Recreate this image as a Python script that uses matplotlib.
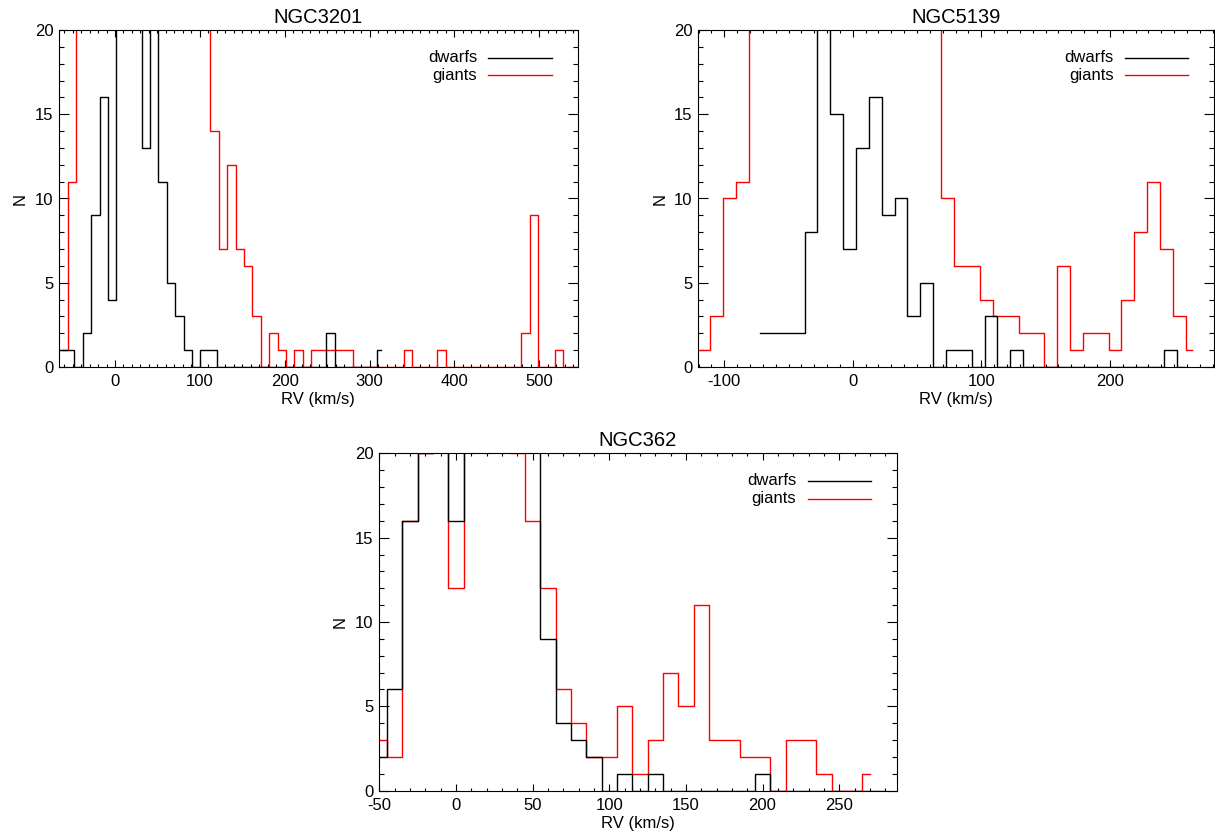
import numpy as np
import matplotlib.pyplot as plt
from matplotlib.ticker import MultipleLocator

plt.rcParams['font.family'] = ['Liberation Sans', 'DejaVu Sans']
plt.rcParams['axes.unicode_minus'] = False

# NGC3201 (bin width 9.9 km/s, values > 20 run off the top of the plot)
n3201_step = 9.9
n3201_dwarf_start = -72.65
n3201_dwarfs = [1, 1, 1, 0, 2, 9, 16, 4, 27, 31, 24, 13, 26, 11, 5, 3, 1, 0, 1, 1,
                0, 0, 0, 0, 0, 0, 0, 0, 0, 0, 0, 0, 0,
                2, 0, 0, 0, 0, 0, 1]
n3201_giant_start = -60.85
n3201_giants = [1, 11,
                22, 34, 41, 52, 60, 58, 49, 40, 37, 31, 28, 30, 26, 24, 22, 21,
                14, 7, 12, 7, 6, 3, 0, 2, 1, 0, 1, 0,
                1, 1, 1, 1, 1, 0, 0, 0, 0, 0, 0, 1, 0, 0, 0, 1,
                0, 0, 0, 0, 0, 0, 0, 0, 0, 2, 9, 0, 0, 1, 0, 0]

# NGC5139 (bin width 10 km/s)
n5139_step = 10
n5139_dwarf_start = -72.5
n5139_dwarfs = [2, 2, 2, 2, 8, 24, 15, 7, 13, 16, 9, 10, 3, 5, 0, 1, 1, 0, 3, 0, 1,
                0, 0, 0, 0, 0, 0, 0, 0, 0, 0, 0, 1, 0]
n5139_giant_start = -126
n5139_giants = [1, 1, 3, 10, 11,
                23, 27, 33, 40, 45, 52, 48, 44, 39, 35, 30, 28, 26, 24, 22,
                10, 6, 6, 4, 3, 3, 2, 2, 0, 6, 1, 2, 2, 1, 4, 8, 11, 7, 3, 1]

# NGC362 (bin width 10 km/s)
n362_step = 10
n362_dwarf_start = -50
n362_dwarfs = [2, 6, 16, 20, 23, 16, 35, 48, 52, 41, 26, 9, 4, 3, 2, 0, 1, 0, 1,
               0, 0, 0, 0, 0, 0, 1, 0, 0, 0, 0, 0, 0, 0, 0]
n362_giant_start = -50
n362_giants = [3, 2, 16, 20, 24, 12, 30, 38, 27, 20, 16, 12, 6, 4, 2, 2, 5, 1, 3,
               7, 5, 11, 3, 3, 2, 2, 0, 3, 3, 1, 0, 0, 1]

fig = plt.figure(figsize=(12.15, 8.38), dpi=100)


def panel(rect, title, xlim, xmajor, dwarf_start, dwarfs, giant_start, giants, step,
          leg_y=(0.917, 0.866)):
    ax = fig.add_axes(rect)
    xg = giant_start + step * np.arange(len(giants))
    xd = dwarf_start + step * np.arange(len(dwarfs))
    ax.step(xg, giants, where='mid', color='red', lw=1.0)
    ax.step(xd, dwarfs, where='mid', color='black', lw=1.0)
    ax.set_xlim(xlim)
    ax.set_ylim(0, 20)
    ax.xaxis.set_major_locator(MultipleLocator(xmajor))
    ax.xaxis.set_minor_locator(MultipleLocator(10))
    ax.yaxis.set_major_locator(MultipleLocator(5))
    ax.yaxis.set_minor_locator(MultipleLocator(1))
    ax.tick_params(which='both', direction='in', top=True, right=True,
                   width=0.8, labelsize=12)
    ax.tick_params(axis='x', which='major', length=5, pad=5)
    ax.tick_params(axis='x', which='minor', length=2.5)
    ax.tick_params(axis='y', which='major', length=7.5, pad=4)
    ax.tick_params(axis='y', which='minor', length=3.8)
    for s in ax.spines.values():
        s.set_linewidth(0.8)
    ax.set_title(title, fontsize=14.5, pad=5)
    ax.set_xlabel('RV (km/s)', fontsize=12, labelpad=2.5)
    ax.set_ylabel('N', fontsize=12, labelpad=5)
    # legend drawn by hand, IDL style
    for name, col, yy in (('dwarfs', 'black', leg_y[0]), ('giants', 'red', leg_y[1])):
        ax.text(0.806, yy, name, transform=ax.transAxes, ha='right', va='center',
                fontsize=12)
        ax.plot([0.828, 0.95], [yy, yy], transform=ax.transAxes, color=col, lw=1.0)
    return ax


panel([59 / 1215, 1 - 367 / 838, 518.7 / 1215, 337 / 838], 'NGC3201',
      (-66, 545.3), 100, n3201_dwarf_start, n3201_dwarfs,
      n3201_giant_start, n3201_giants, n3201_step)
panel([698.3 / 1215, 1 - 367 / 838, 515.4 / 1215, 337 / 838], 'NGC5139',
      (-120.2, 280.8), 100, n5139_dwarf_start, n5139_dwarfs,
      n5139_giant_start, n5139_giants, n5139_step)
panel([379 / 1215, 1 - 790.7 / 838, 517.7 / 1215, 337.4 / 838], 'NGC362',
      (-50.2, 287.5), 50, n362_dwarf_start, n362_dwarfs,
      n362_giant_start, n362_giants, n362_step, leg_y=(0.918, 0.865))

fig.savefig('out.png', dpi=100)
